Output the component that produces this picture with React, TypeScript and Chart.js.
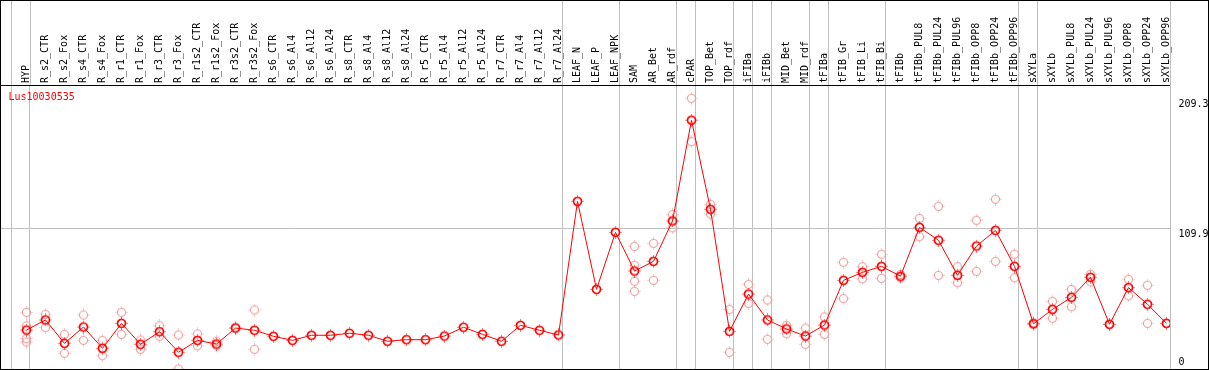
import React, { useEffect, useRef } from "react";
import { Chart, registerables } from "chart.js";

Chart.register(...registerables);

const GENE = "Lus10030535";

const CATEGORIES = [
  "HYP", "R_s2_CTR", "R_s2_Fox", "R_s4_CTR", "R_s4_Fox", "R_r1_CTR", "R_r1_Fox", "R_r3_CTR", "R_r3_Fox",
  "R_r1s2_CTR", "R_r1s2_Fox", "R_r3s2_CTR", "R_r3s2_Fox", "R_s6_CTR", "R_s6_Al4", "R_s6_Al12", "R_s6_Al24",
  "R_s8_CTR", "R_s8_Al4", "R_s8_Al12", "R_s8_Al24", "R_r5_CTR", "R_r5_Al4", "R_r5_Al12", "R_r5_Al24",
  "R_r7_CTR", "R_r7_Al4", "R_r7_Al12", "R_r7_Al24", "LEAF_N", "LEAF_P", "LEAF_NPK", "SAM", "AR_Bet", "AR_rdf",
  "cPAR", "TOP_Bet", "TOP_rdf", "iFIBa", "iFIBb", "MID_Bet", "MID_rdf", "tFIBa", "tFIB_Gr", "tFIB_Li", "tFIB_Bi",
  "tFIBb", "tFIBb_PUL8", "tFIBb_PUL24", "tFIBb_PUL96", "tFIBb_OPP8", "tFIBb_OPP24", "tFIBb_OPP96",
  "sXYLa", "sXYLb", "sXYLb_PUL8", "sXYLb_PUL24", "sXYLb_PUL96", "sXYLb_OPP8", "sXYLb_OPP24", "sXYLb_OPP96",
];

const MEANS = [
  32.1, 39.8, 21.9, 34.4, 18.1, 37.2, 21.2, 30.8, 15.1, 24.2, 21.4, 33.6, 31.9, 27.3, 24.2, 28.1, 28.1,
  29.6, 28.1, 23.5, 24.7, 24.7, 27.5, 34.2, 28.8, 23.5, 35.7, 31.9, 28.3, 130.5, 63.2, 106.8, 77.2, 84.6,
  115.5, 192.5, 124.4, 31.1, 59.6, 39.8, 32.9, 27.5, 35.9, 70.1, 76.2, 80.8, 73.2, 110.6, 100.7, 73.9, 96.3,
  108.3, 80.8, 36.9, 47.9, 57.1, 72.4, 36.5, 64.5, 51.8, 37.2,
];

const REPLICATES: number[][] = [
  [45.6, 35.2, 25.5, 22.9], [44.1, 33.9], [28.8, 14.3], [43.6, 24.2], [24.2, 12.5], [45.6, 28.8],
  [24.5, 17.4], [35.4, 27.3], [28.3, 2.3], [29.1, 20.1], [23.5, 20.1], [34.2], [47.4, 17.4],
  [], [], [], [], [], [], [], [], [], [], [], [], [], [], [], [],
  [], [], [],
  [96.1, 81.6, 69.4, 61.7], [98.4, 70.1], [120.3, 110.3], [209.3, 176.1], [128.2, 120.8], [47.9, 15.1],
  [67.1, 52.5], [55.1, 25.0], [35.7, 29.3], [33.6, 21.2], [42.1, 28.8], [83.9, 56.1], [80.5, 71.3],
  [90.0, 71.6], [74.5, 72.0], [117.5, 103.5], [126.7, 73.9], [80.5, 68.3], [116.0, 77.0], [132.1, 84.6],
  [90.0, 72.1], [37.5, 36.3], [54.1, 41.1], [63.2, 49.9], [74.7, 69.0], [36.5], [70.9, 58.3], [66.3, 37.2],
  [37.2],
];

// indices where a group separator line starts
const GROUP_BOUNDARIES = [0, 1, 29, 32, 35, 36, 38, 39, 40, 42, 43, 46, 53, 54, 61];

const Y_TICKS = [0, 109.9, 209.3];
const Y_TICK_LABELS = ["0", "109.9", "209.3"];
const Y_MIN = 2.3;
const Y_MAX = 219.45;

const X_MIN = -10 / 19;
const X_MAX = 61;
const POINT_OFFSET = 15.5 / 19;

const FONT = '"DejaVu Sans Mono", "Liberation Mono", monospace';

function makeMarker(color: string, lw: number): HTMLCanvasElement {
  const c = document.createElement("canvas");
  c.width = 13;
  c.height = 13;
  const g = c.getContext("2d")!;
  g.strokeStyle = color;
  g.lineWidth = lw;
  g.beginPath();
  g.arc(6.5, 6.5, 4, 0, Math.PI * 2);
  g.stroke();
  g.fillStyle = color;
  g.fillRect(6, 0.5, 1, 1);
  g.fillRect(6, 11.5, 1, 1);
  g.fillRect(0.5, 6, 1, 1);
  g.fillRect(11.5, 6, 1, 1);
  return c;
}

const framePlugin = {
  id: "frame",
  afterDraw(chart: any) {
    const { ctx, chartArea, scales } = chart;
    const xg = scales.xg;
    const y = scales.y;
    ctx.save();
    ctx.strokeStyle = "#c0c0c0";
    ctx.lineWidth = 1;
    for (const t of xg.ticks) {
      const px = Math.round(xg.getPixelForValue(t.value)) + 0.5;
      ctx.beginPath();
      ctx.moveTo(px, 0);
      ctx.lineTo(px, chartArea.top);
      ctx.stroke();
    }
    ctx.font = "10px " + FONT;
    ctx.textBaseline = "top";
    ctx.textAlign = "left";
    ctx.fillStyle = "#000";
    Y_TICKS.forEach((v, i) => {
      let py = y.getPixelForValue(v) + 1.5;
      py = Math.min(py, chart.height - 12.5);
      ctx.fillText(Y_TICK_LABELS[i], chartArea.right + 8.5, py);
    });
    ctx.fillStyle = "#ff0000";
    ctx.fillText(GENE, 8.5, chartArea.top + 7);
    ctx.strokeStyle = "#000";
    ctx.strokeRect(0.5, 0.5, chart.width - 1, chart.height - 1);
    ctx.restore();
  },
};

export default function App() {
  const ref = useRef<HTMLCanvasElement | null>(null);

  useEffect(() => {
    if (!ref.current) return;
    const meanMarker = makeMarker("#ff0000", 1.7);
    const repMarker = makeMarker("#ee9a9a", 1.1);
    const meanData = MEANS.map((v, i) => ({ x: i + POINT_OFFSET, y: v }));
    const repData = REPLICATES.flatMap((reps, i) => reps.map((v) => ({ x: i + POINT_OFFSET, y: v })));

    const chart = new Chart(ref.current, {
      type: "line",
      data: {
        datasets: [
          {
            label: "mean",
            data: meanData,
            borderColor: "#ff0000",
            borderWidth: 1,
            pointStyle: meanMarker as any,
            pointRadius: 4,
            tension: 0,
            fill: false,
            order: 0,
          },
          {
            label: "replicates",
            data: repData,
            showLine: false,
            borderColor: "#ee9a9a",
            pointStyle: repMarker as any,
            pointRadius: 4,
            order: 1,
          },
        ],
      },
      options: {
        responsive: false,
        animation: false,
        layout: { autoPadding: false, padding: { left: 1, right: 0, top: 0, bottom: 1 } },
        plugins: { legend: { display: false }, tooltip: { enabled: false } },
        scales: {
          x: {
            type: "linear",
            position: "top",
            min: X_MIN,
            max: X_MAX,
            afterBuildTicks: (s: any) => {
              s.ticks = CATEGORIES.map((_, i) => ({ value: i + POINT_OFFSET }));
            },
            afterFit: (s: any) => {
              s.height = 85;
              s.paddingLeft = 0;
              s.paddingRight = 0;
            },
            ticks: {
              autoSkip: false,
              minRotation: 90,
              maxRotation: 90,
              padding: 2,
              labelOffset: 12,
              color: "#000",
              font: { family: FONT, size: 10 },
              callback: (_v: any, i: number) => CATEGORIES[i],
            },
            grid: { display: false, drawTicks: false },
            border: { display: true, color: "#000", width: 1 },
          },
          xg: {
            type: "linear",
            position: "bottom",
            min: X_MIN,
            max: X_MAX,
            afterBuildTicks: (s: any) => {
              s.ticks = GROUP_BOUNDARIES.map((v) => ({ value: v }));
            },
            afterFit: (s: any) => {
              s.height = 0;
              s.paddingLeft = 0;
              s.paddingRight = 0;
            },
            ticks: { display: false },
            grid: { color: "#c0c0c0", lineWidth: 1, drawTicks: false },
            border: { display: false },
          },
          y: {
            type: "linear",
            position: "right",
            min: Y_MIN,
            max: Y_MAX,
            afterBuildTicks: (s: any) => {
              s.ticks = Y_TICKS.map((v) => ({ value: v }));
            },
            afterFit: (s: any) => {
              s.width = 39;
              s.paddingTop = 0;
              s.paddingBottom = 0;
            },
            ticks: { display: false },
            grid: {
              drawTicks: false,
              color: (c: any) => (c.tick && c.tick.value === 109.9 ? "#c0c0c0" : "rgba(0,0,0,0)"),
            },
            border: { display: true, color: "#c0c0c0", width: 1 },
          },
        },
      } as any,
      plugins: [framePlugin],
    });
    return () => chart.destroy();
  }, []);

  return (
    <div style={{ position: "fixed", left: 0, top: 0, width: 1209, height: 370, background: "#fff" }}>
      <canvas ref={ref} width={1209} height={370} style={{ display: "block", width: 1209, height: 370 }} />
    </div>
  );
}
